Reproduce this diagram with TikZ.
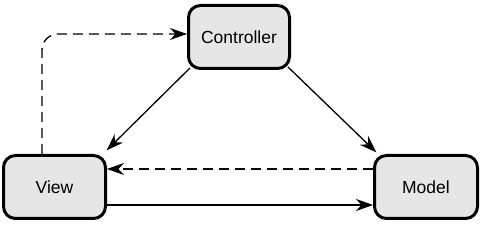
\documentclass[tikz,border=0pt]{standalone}
\usepackage{fontspec}
\setmainfont{Liberation Sans}
\usetikzlibrary{arrows.meta,calc}
\definecolor{boxfill}{HTML}{E6E6E6}
\begin{document}
\begin{tikzpicture}[x=1pt,y=1pt,
  mvcbox/.style={draw=black, line width=3pt, fill=boxfill, rounded corners=12pt,
    minimum height=63pt, font=\fontsize{17.5}{20}\selectfont, inner sep=0pt},
  conn/.style={line width=1.3pt, -{Stealth[length=17pt,width=12pt,inset=5.5pt]}},
  dashconn/.style={conn, dash pattern=on 10pt off 6pt}]
\useasboundingbox (0,0) rectangle (480,251);
\fill[white] (0,0) rectangle (480,251);
\node[mvcbox, minimum width=101pt] (ctrl) at (239,214) {Controller};
\node[mvcbox, minimum width=102pt] (view) at (54.5,64) {View};
\node[mvcbox, minimum width=103pt] (model) at (426,64) {Model};
\coordinate (c1) at ([shift={(3pt,2pt)}]ctrl.south west);
\coordinate (c2) at ([shift={(-3pt,3pt)}]ctrl.south east);
\coordinate (v1) at ([shift={(-1pt,3pt)}]view.north east);
\coordinate (m1) at ([shift={(4pt,1pt)}]model.north west);
\draw[conn, shorten >=1pt] (c1) -- (v1);
\draw[conn, shorten >=1pt] (c2) -- (m1);
\draw[dashconn] (model.west |- 0,82) -- (view.east |- 0,82);
\draw[conn] (view.east |- 0,46) -- (model.west |- 0,46);
\draw[dashconn, rounded corners=16pt] (view.north -| 42,0) -- (42,217) -- (ctrl.west |- 0,217);
\end{tikzpicture}
\end{document}
